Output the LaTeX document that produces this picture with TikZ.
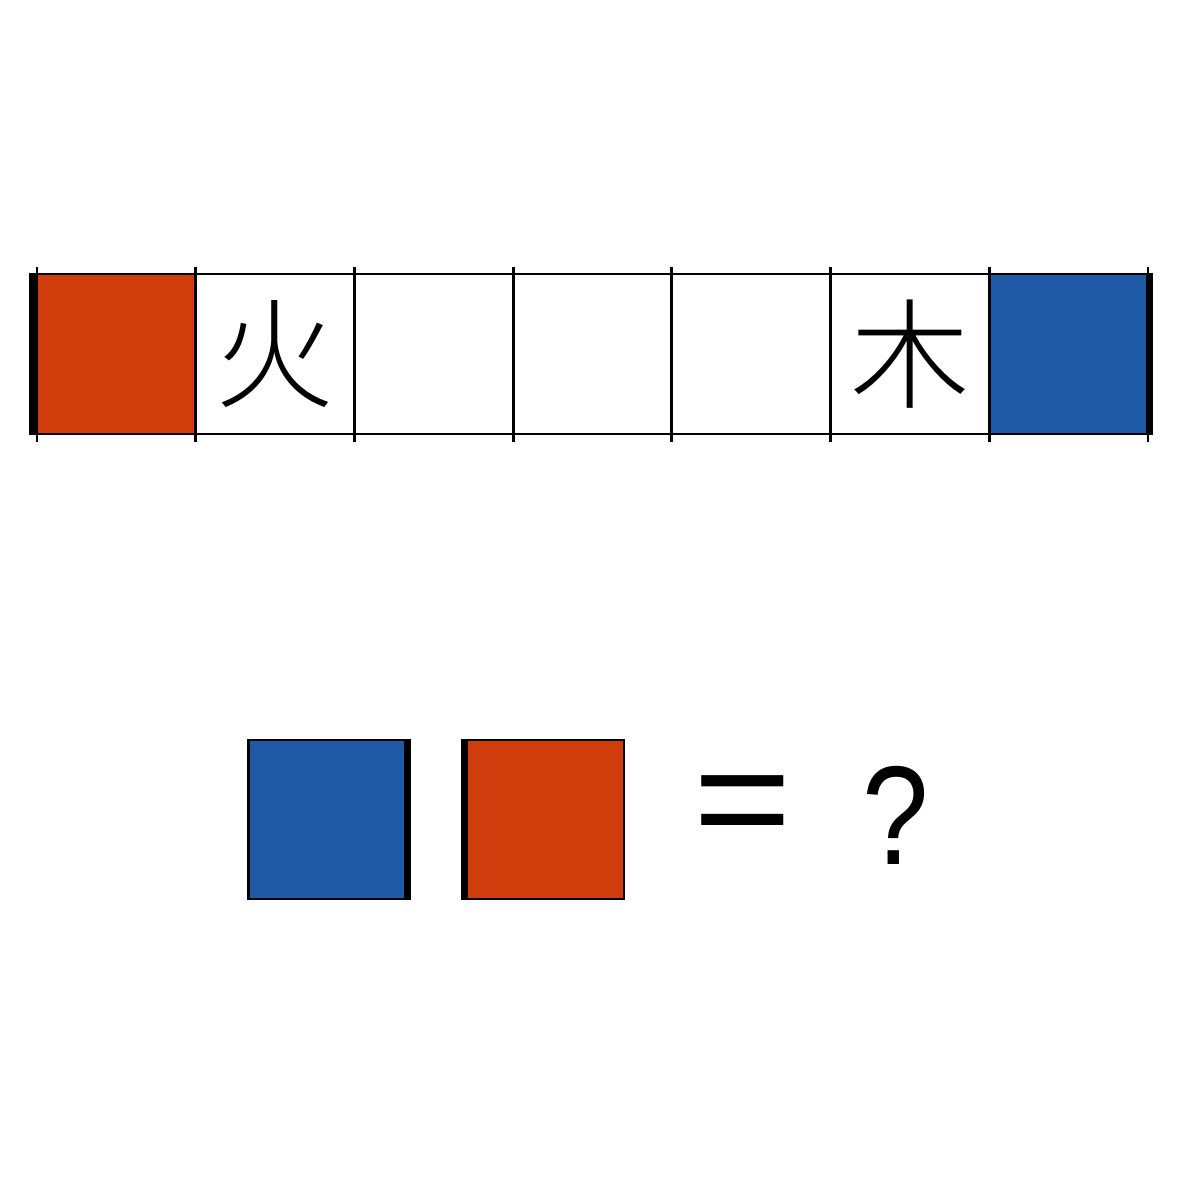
\documentclass[tikz,border=0pt]{standalone}
\usepackage{fontspec}
\IfFontExistsTF{Noto Sans CJK JP Light}
  {\newfontfamily\cjk{Noto Sans CJK JP Light}}
  {\newfontfamily\cjk{Noto Sans CJK JP}}
\newfontfamily\lsans{Liberation Sans}
\usetikzlibrary{positioning}
\definecolor{tilered}{HTML}{D03C0C}
\definecolor{tileblue}{HTML}{1F5AA6}

\begin{document}
\begin{tikzpicture}[x=0.01cm,y=-0.01cm,
 cell/.style={minimum width=1.587cm,minimum height=1.6cm,inner sep=0pt,font=\cjk\fontsize{34}{34}\selectfont},
 sq/.style={draw,line width=0.8pt,minimum width=1.6cm,minimum height=1.59cm,inner sep=0pt},
 rule/.style={line width=0.8pt},
 edge/.style={line width=1.9pt},
 sign/.style={font=\lsans\fontsize{40}{40}\selectfont}]
\useasboundingbox (0,0) rectangle (1200,1200);
% strip of seven cells
\node[cell,fill=tilered] (c1) at (116.4,354) {};
\foreach \i/\txt in {2/火,3/,4/,5/,6/木}
  \node[cell] (c\i) at (37+\i*158.7-79.35,354) {\txt};
\node[cell,fill=tileblue,minimum width=1.56cm] (c7) at (1068,354) {};
\draw[rule] (37,274) -- (1148,274);
\draw[rule] (37,434) -- (1148,434);
\foreach \k in {0,...,7}
  \draw[rule] (37+\k*158.7,267) -- (37+\k*158.7,442);
\draw[line width=2.4pt] (c1.north west) ++(-3,0) coordinate (lt) -- (lt |- c1.south west);
\draw[edge] (c7.north east) ++(3,0) coordinate (rt) -- (rt |- c7.south east);
% the question
\node[sq,fill=tileblue] (qb) at (328.3,819.5) {};
\node[sq,fill=tilered] (qr) at (544,819.5) {};
\draw[edge] (qb.north east) ++(-2,0) coordinate (bt) -- (bt |- qb.south east);
\draw[edge] (qr.north west) ++(2,0) coordinate (rr) -- (rr |- qr.south west);
\node[sign] (eq) at (743,814) {\scalebox{1.2}[1.1]{=}};
\node[sign] (qm) at (896,815) {\scalebox{0.85}[1]{?}};
\end{tikzpicture}
\end{document}
